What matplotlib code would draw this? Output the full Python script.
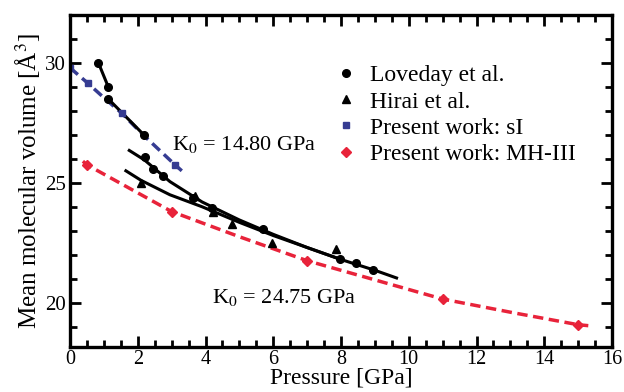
import matplotlib
matplotlib.use("Agg")
import matplotlib.pyplot as plt
from matplotlib.ticker import MultipleLocator

plt.rcParams['font.family'] = ['Liberation Serif', 'DejaVu Serif']
plt.rcParams['mathtext.fontset'] = 'stix'

# Loveday et al. (circles)
lov_p = [0.84, 1.13, 1.13, 2.18, 2.2, 2.46, 2.74, 3.64, 4.2, 5.7, 7.97, 8.45, 8.95]
lov_v = [30.0, 29.0, 28.5, 27.0, 26.07, 25.57, 25.29, 24.36, 23.95, 23.07, 21.82, 21.65, 21.35]
# low-pressure Loveday segments joined by lines
seg1_p, seg1_v = [0.84, 1.13], [30.0, 29.0]
seg2_p, seg2_v = [1.13, 2.18], [28.5, 27.0]

# Hirai et al. (triangles)
hir_p = [2.11, 3.69, 4.23, 4.77, 5.95, 7.85]
hir_v = [24.99, 24.43, 23.8, 23.3, 22.49, 22.24]

# black fit curves
fitA_p = [1.75, 2.2, 2.95, 3.9, 5.0, 6.0, 7.0, 8.0, 9.0, 9.64]
fitA_v = [26.35, 25.95, 25.05, 24.2, 23.45, 22.85, 22.3, 21.8, 21.35, 21.03]
fitB_p = [1.65, 2.1, 2.95, 3.9, 5.0, 6.0, 7.0, 7.9]
fitB_v = [25.5, 25.1, 24.5, 24.0, 23.35, 22.8, 22.3, 21.85]

# present work: sI (squares) and its fit
si_p = [0.0, 0.53, 1.53, 3.1]
si_v = [29.8, 29.15, 27.9, 25.75]
si_fit_p = [0.0, 0.53, 1.0, 1.53, 2.16, 3.1, 3.3]
si_fit_v = [29.8, 29.15, 28.55, 27.9, 27.0, 25.75, 25.5]

# present work: MH-III (diamonds) and its fit
mh_p = [0.5, 3.0, 7.0, 11.0, 15.0]
mh_v = [25.75, 23.8, 21.75, 20.15, 19.08]
mh_fit_p = [0.38, 0.5, 3.0, 5.0, 7.0, 9.15, 11.0, 13.08, 15.0, 15.3]
mh_fit_v = [25.9, 25.75, 23.8, 22.75, 21.75, 20.89, 20.15, 19.58, 19.08, 19.04]

navy = '#363c92'
red = '#e8233a'

fig = plt.figure(figsize=(6.24, 3.92), dpi=100)
ax = fig.add_axes([70/624, 1-347/392, 542/624, 332/392])

# fits
ax.plot(si_fit_p, si_fit_v, color=navy, lw=2.5, ls=(0, (3, 1.6)))
ax.plot(mh_fit_p, mh_fit_v, color=red, lw=2.5, ls=(0, (3, 1.6)))
ax.plot(fitA_p, fitA_v, color='black', lw=2.2)
ax.plot(fitB_p, fitB_v, color='black', lw=2.2)
ax.plot(seg1_p, seg1_v, color='black', lw=2.2)
ax.plot(seg2_p, seg2_v, color='black', lw=2.2)

# data points
ax.plot(lov_p, lov_v, 'o', color='black', ms=5.5, label='Loveday et al.')
ax.plot(hir_p, hir_v, '^', color='black', ms=6, label='Hirai et al.')
ax.plot(si_p, si_v, 's', color=navy, ms=5, label='Present work: sI')
ax.plot(mh_p, mh_v, 'D', color=red, ms=5, label='Present work: MH-III')

ax.set_xlim(0, 16)
ax.set_ylim(18.15, 32)
ax.xaxis.set_major_locator(MultipleLocator(2))
ax.xaxis.set_minor_locator(MultipleLocator(0.5))
ax.yaxis.set_major_locator(MultipleLocator(5))
ax.yaxis.set_minor_locator(MultipleLocator(1))
ax.tick_params(which='both', direction='in', top=True, right=True, width=2)
ax.tick_params(which='major', length=8, labelsize=15, pad=3)
ax.tick_params(axis='x', which='major', labelsize=14.5, pad=2)
ax.tick_params(which='minor', length=5)
for s in ax.spines.values():
    s.set_linewidth(2.4)

ax.set_xlabel('Pressure [GPa]', fontsize=17, labelpad=-1)
ax.set_ylabel('Mean molecular volume [Å$^3$]', fontsize=18, labelpad=2)

ax.text(3.0, 26.6, r'K$_0$ = 14.80 GPa', fontsize=16, va='center')
ax.text(4.2, 20.2, r'K$_0$ = 24.75 GPa', fontsize=16, va='center')

ax.legend(loc='upper left', bbox_to_anchor=(0.457, 0.9), frameon=False,
          fontsize=17, handlelength=1.0, handletextpad=0.5, labelspacing=0.2,
          borderpad=0.2)

fig.savefig('out.png', dpi=100)
